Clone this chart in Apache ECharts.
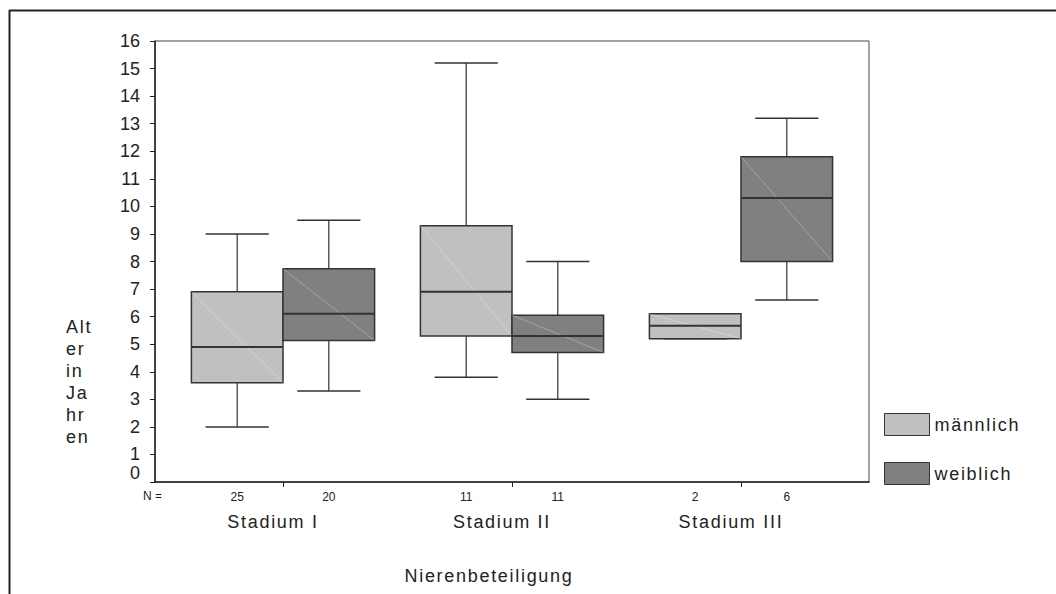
<!DOCTYPE html>
<html>
<head>
<meta charset="utf-8">
<script src="https://cdn.jsdelivr.net/npm/echarts@6/dist/echarts.min.js"></script>
<style>
html,body{margin:0;padding:0;background:#fff;}
#chart{width:1056px;height:594px;}
#chart text[style*="Liberation"]{letter-spacing:1.7px;}
</style>
</head>
<body>
<div id="chart"></div>
<script>
// ---- data ----
const categories = ['Stadium I', 'Stadium II', 'Stadium III'];
const seriesNames = ['männlich', 'weiblich'];
const nMale = [25, 11, 2];
const nFemale = [20, 11, 6];
// [lower whisker, Q1, median, Q3, upper whisker]
const maleStats = [
  [2.0, 3.6, 4.9, 6.9, 9.0],
  [3.8, 5.3, 6.9, 9.3, 15.2],
  [5.2, 5.2, 5.67, 6.1, 6.1]
];
const femaleStats = [
  [3.3, 5.13, 6.1, 7.74, 9.5],
  [3.0, 4.7, 5.3, 6.05, 8.0],
  [6.6, 8.0, 10.3, 11.8, 13.2]
];
const yTicks = [0,1,2,3,4,5,6,7,8,9,10,11,12,13,14,15,16];

// ---- layout / style ----
const groupOffset = 0.2;
const boxW = 0.4;
const capRatio = 0.69;
const maleColor = '#c0c0c0';
const femaleColor = '#808080';
const lineColor = '#333333';

const groupPos = categories.map((c, i) => i + 1);
const malePos = groupPos.map(p => p - groupOffset);
const femalePos = groupPos.map(p => p + groupOffset);
const maleData = maleStats.map((s, i) => [malePos[i]].concat(s));
const femaleData = femaleStats.map((s, i) => [femalePos[i]].concat(s));
const nPositions = [];
const nLabels = [];
groupPos.forEach((p, i) => {
  nPositions.push(malePos[i], femalePos[i]);
  nLabels.push(nMale[i], nFemale[i]);
});

function renderBox(params, api) {
  const x = api.value(0);
  const lo = api.value(1), q1 = api.value(2), med = api.value(3), q3 = api.value(4), hi = api.value(5);
  const w = api.size([boxW, 0])[0];
  const cw = w * capRatio;
  const pLo = api.coord([x, lo]);
  const pQ1 = api.coord([x, q1]);
  const pMed = api.coord([x, med]);
  const pQ3 = api.coord([x, q3]);
  const pHi = api.coord([x, hi]);
  const cx = pLo[0];
  const color = api.visual('color');
  const ls = { stroke: lineColor, lineWidth: 1.2 };
  return {
    type: 'group',
    children: [
      { type: 'line', shape: { x1: cx, y1: pLo[1], x2: cx, y2: pQ1[1] }, style: ls },
      { type: 'line', shape: { x1: cx, y1: pQ3[1], x2: cx, y2: pHi[1] }, style: ls },
      { type: 'line', shape: { x1: cx - cw / 2, y1: pLo[1], x2: cx + cw / 2, y2: pLo[1] }, style: { stroke: lineColor, lineWidth: 1.5 } },
      { type: 'line', shape: { x1: cx - cw / 2, y1: pHi[1], x2: cx + cw / 2, y2: pHi[1] }, style: { stroke: lineColor, lineWidth: 1.5 } },
      { type: 'rect', shape: { x: cx - w / 2, y: pQ3[1], width: w, height: pQ1[1] - pQ3[1] },
        style: { fill: color, stroke: lineColor, lineWidth: 1.5 } },
      { type: 'line', shape: { x1: cx - w / 2, y1: pQ3[1], x2: cx + w / 2, y2: pQ1[1] },
        style: { stroke: 'rgba(255,255,255,0.35)', lineWidth: 0.8 } },
      { type: 'line', shape: { x1: cx - w / 2, y1: pMed[1], x2: cx + w / 2, y2: pMed[1] },
        style: { stroke: lineColor, lineWidth: 2 } }
    ]
  };
}

const chart = echarts.init(document.getElementById('chart'), null, { renderer: 'svg' });
const spacedFont = 'Liberation Sans';
const plainFont = 'Arial';

chart.setOption({
  animation: false,
  backgroundColor: '#ffffff',
  grid: {
    left: 155, right: 187, top: 41, bottom: 112,
    show: true, borderColor: '#444', borderWidth: 1,
    containLabel: false, outerBoundsMode: 'none'
  },
  legend: {
    data: seriesNames,
    orient: 'vertical',
    left: 884, top: 413,
    itemWidth: 45, itemHeight: 22, itemGap: 26,
    icon: 'rect',
    selectedMode: false,
    padding: 0,
    itemStyle: { borderColor: lineColor, borderWidth: 1 },
    textStyle: { fontFamily: spacedFont, fontSize: 18, color: '#222', padding: [0, 0, 0, 0] }
  },
  xAxis: [
    {
      type: 'value', min: 0.441, max: 3.559,
      splitLine: { show: false },
      axisLine: { show: true, lineStyle: { color: '#222', width: 1.5 } },
      axisTick: { show: true, customValues: groupPos, length: 5, lineStyle: { color: '#222' } },
      axisLabel: {
        customValues: nPositions,
        margin: 9,
        fontFamily: plainFont, fontSize: 12, color: '#222',
        formatter: function (v) {
          let best = 0;
          nPositions.forEach((p, i) => { if (Math.abs(p - v) < Math.abs(nPositions[best] - v)) best = i; });
          return String(nLabels[best]);
        }
      }
    },
    {
      type: 'value', min: 0.441, max: 3.559, position: 'bottom', offset: 0,
      splitLine: { show: false },
      axisLine: { show: false },
      axisTick: { show: false },
      axisLabel: {
        customValues: groupPos,
        margin: 31,
        padding: [0, 20, 0, 0],
        fontFamily: spacedFont, fontSize: 18, color: '#222',
        formatter: function (v) { return categories[Math.round(v) - 1]; }
      }
    }
  ],
  yAxis: {
    type: 'value', min: 0, max: 16, interval: 1,
    splitLine: { show: false },
    axisLine: { show: true, lineStyle: { color: '#222', width: 1.5 } },
    axisTick: { show: true, length: 5, lineStyle: { color: '#222' } },
    axisLabel: {
      margin: 15, fontFamily: plainFont, fontSize: 18, color: '#222',
      customValues: yTicks,
      formatter: function (v) { return v === 0 ? '{z|0}' : String(v); },
      rich: { z: { fontFamily: plainFont, fontSize: 18, color: '#222', padding: [0, 0, 19, 0] } }
    }
  },
  graphic: [
    { type: 'line', shape: { x1: 9, y1: 10.5, x2: 1056, y2: 10.5 }, style: { stroke: '#222', lineWidth: 2 } },
    { type: 'line', shape: { x1: 9.5, y1: 10, x2: 9.5, y2: 594 }, style: { stroke: '#222', lineWidth: 2 } },
    { type: 'text', x: 143, y: 496, style: { text: 'N =', fontFamily: plainFont, fontSize: 12, fill: '#222', verticalAlign: 'middle' } },
    { type: 'text', x: 66, y: 316, style: { text: 'Alt\ner\nin\nJa\nhr\nen', fontFamily: spacedFont, fontSize: 18, lineHeight: 22, fill: '#222', verticalAlign: 'top' } },
    { type: 'text', x: 489, y: 576, style: { text: 'Nierenbeteiligung', fontFamily: spacedFont, fontSize: 18, fill: '#222', align: 'center', verticalAlign: 'middle' } }
  ],
  series: [
    {
      name: seriesNames[0], type: 'custom', xAxisIndex: 0, yAxisIndex: 0,
      itemStyle: { color: maleColor },
      encode: { x: 0, y: [1, 2, 3, 4, 5] },
      renderItem: renderBox, data: maleData
    },
    {
      name: seriesNames[1], type: 'custom', xAxisIndex: 0, yAxisIndex: 0,
      itemStyle: { color: femaleColor },
      encode: { x: 0, y: [1, 2, 3, 4, 5] },
      renderItem: renderBox, data: femaleData
    }
  ]
});
</script>
</body>
</html>
